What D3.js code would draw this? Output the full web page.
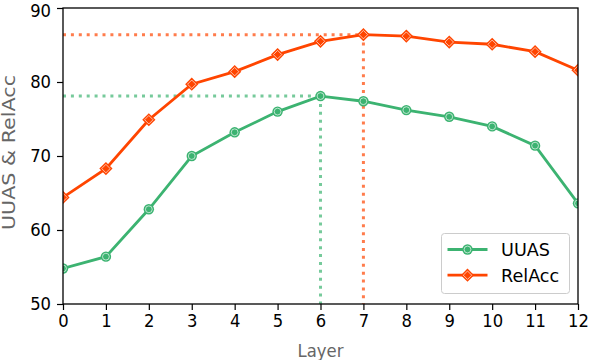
<!DOCTYPE html>
<html lang="en">
<head>
<meta charset="UTF-8">
<title>UUAS & RelAcc</title>
<script src="https://d3js.org/d3.v7.min.js"></script>
<style>
  body { margin: 0; background: #fff; }
  svg text { font-family: "DejaVu Sans", sans-serif; }
  .tall { transform-box: fill-box; transform-origin: center; transform: scaleY(1.12); }
</style>
</head>
<body>
<div id="chart"></div>
<script>
// values
const layers = [0, 1, 2, 3, 4, 5, 6, 7, 8, 9, 10, 11, 12];
const uuas   = [54.8, 56.4, 62.8, 70.0, 73.2, 76.0, 78.1, 77.4, 76.2, 75.3, 74.0, 71.4, 63.6];
const relAcc = [64.4, 68.3, 74.9, 79.7, 81.4, 83.7, 85.5, 86.4, 86.2, 85.4, 85.1, 84.1, 81.6];
const yTicks = [50, 60, 70, 80, 90];
const seriesNames = ["UUAS", "RelAcc"];
const colors = ["#3cb371", "#ff4500"];

const W = 590, H = 360;
const margin = { top: 8, right: 12, bottom: 56, left: 63 };
const width = W - margin.left - margin.right;
const height = H - margin.top - margin.bottom;

const svg = d3.select("#chart").append("svg")
    .attr("width", W).attr("height", H);

const g = svg.append("g")
    .attr("transform", `translate(${margin.left},${margin.top})`);

const x = d3.scaleLinear().domain([0, 12]).range([0, width]);
const y = d3.scaleLinear().domain([50, 90]).range([height, 0]);

g.append("clipPath").attr("id", "clip")
  .append("rect").attr("width", width).attr("height", height);

const plot = g.append("g").attr("clip-path", "url(#clip)");

// dotted guide lines at each series' max
[uuas, relAcc].forEach((vals, i) => {
    const idx = d3.maxIndex(vals);
    const c = colors[i];
    plot.append("line")
        .attr("x1", x(0)).attr("x2", x(layers[idx]))
        .attr("y1", y(vals[idx])).attr("y2", y(vals[idx]))
        .attr("stroke", c).attr("stroke-opacity", 0.7)
        .attr("stroke-width", 3).attr("stroke-dasharray", "3,4.9");
    plot.append("line")
        .attr("x1", x(layers[idx])).attr("x2", x(layers[idx]))
        .attr("y1", y(vals[idx])).attr("y2", y(50))
        .attr("stroke", c).attr("stroke-opacity", 0.7)
        .attr("stroke-width", 3).attr("stroke-dasharray", "3,4.9");
});

const line = d3.line().x((d, i) => x(layers[i])).y(d => y(d));

function marker(sel, kind, c, cx, cy) {
    if (kind === 0) {
        sel.append("circle").attr("cx", cx).attr("cy", cy).attr("r", 5.2)
            .attr("fill", c);
        sel.append("circle").attr("cx", cx).attr("cy", cy).attr("r", 3.4)
            .attr("fill", "none").attr("stroke", "#fff").attr("stroke-opacity", 0.8).attr("stroke-width", 0.8);
    } else {
        const s = 6.6, s2 = 4.2;
        sel.append("path")
            .attr("d", `M${cx},${cy - s}L${cx + s},${cy}L${cx},${cy + s}L${cx - s},${cy}Z`)
            .attr("fill", c);
        sel.append("path")
            .attr("d", `M${cx},${cy - s2}L${cx + s2},${cy}L${cx},${cy + s2}L${cx - s2},${cy}Z`)
            .attr("fill", "none").attr("stroke", "#fff").attr("stroke-opacity", 0.8).attr("stroke-width", 0.8);
    }
}

[uuas, relAcc].forEach((vals, i) => {
    plot.append("path").datum(vals)
        .attr("d", line)
        .attr("fill", "none")
        .attr("stroke", colors[i])
        .attr("stroke-width", 2.8);
    vals.forEach((v, j) => marker(plot, i, colors[i], x(layers[j]), y(v)));
});

// axes
const xAxis = g.append("g")
    .attr("transform", `translate(0,${height})`)
    .call(d3.axisBottom(x).tickValues(layers).tickFormat(d3.format("d")).tickSize(6).tickPadding(5));
const yAxis = g.append("g")
    .call(d3.axisLeft(y).tickValues(yTicks).tickSize(6).tickPadding(6));

[xAxis, yAxis].forEach(a => {
    a.selectAll("text").attr("font-size", 16.4).attr("fill", "#000")
        .attr("font-family", "DejaVu Sans, sans-serif")
        .attr("class", "tall");
    a.selectAll("line").attr("stroke", "#000").attr("stroke-width", 1.2);
    a.select(".domain").remove();
});
// top label would clip at the window edge, nudge it down a bit
yAxis.selectAll(".tick text").filter(d => d === 90).attr("y", 2.5);

// frame
g.append("rect").attr("width", width).attr("height", height)
    .attr("fill", "none").attr("stroke", "#000").attr("stroke-width", 1.3);

// axis labels
svg.append("text")
    .attr("class", "tall")
    .attr("x", margin.left + width / 2).attr("y", 356.5)
    .attr("text-anchor", "middle").attr("font-size", 16.5).attr("fill", "#666")
    .text("Layer");
svg.append("g")
    .attr("transform", `translate(15,152.5) rotate(-90)`)
  .append("text")
    .attr("text-anchor", "middle").attr("font-size", 17).attr("fill", "#666")
    .attr("textLength", 155).attr("lengthAdjust", "spacingAndGlyphs")
    .text("UUAS & RelAcc");

// legend
const lg = svg.append("g").attr("transform", "translate(441.5,233.5)");
lg.append("rect").attr("width", 128).attr("height", 60).attr("rx", 3)
    .attr("fill", "#fff").attr("fill-opacity", 0.8)
    .attr("stroke", "#ccc").attr("stroke-width", 1);
seriesNames.forEach((name, i) => {
    const yy = 16 + i * 25.7;
    lg.append("line").attr("x1", 6).attr("x2", 46).attr("y1", yy).attr("y2", yy)
        .attr("stroke", colors[i]).attr("stroke-width", 2.8);
    marker(lg, i, colors[i], 26, yy);
    lg.append("text").attr("x", 59.5).attr("y", yy + 6.5)
        .attr("font-size", 17.6).attr("fill", "#000").text(name);
});
</script>
</body>
</html>
